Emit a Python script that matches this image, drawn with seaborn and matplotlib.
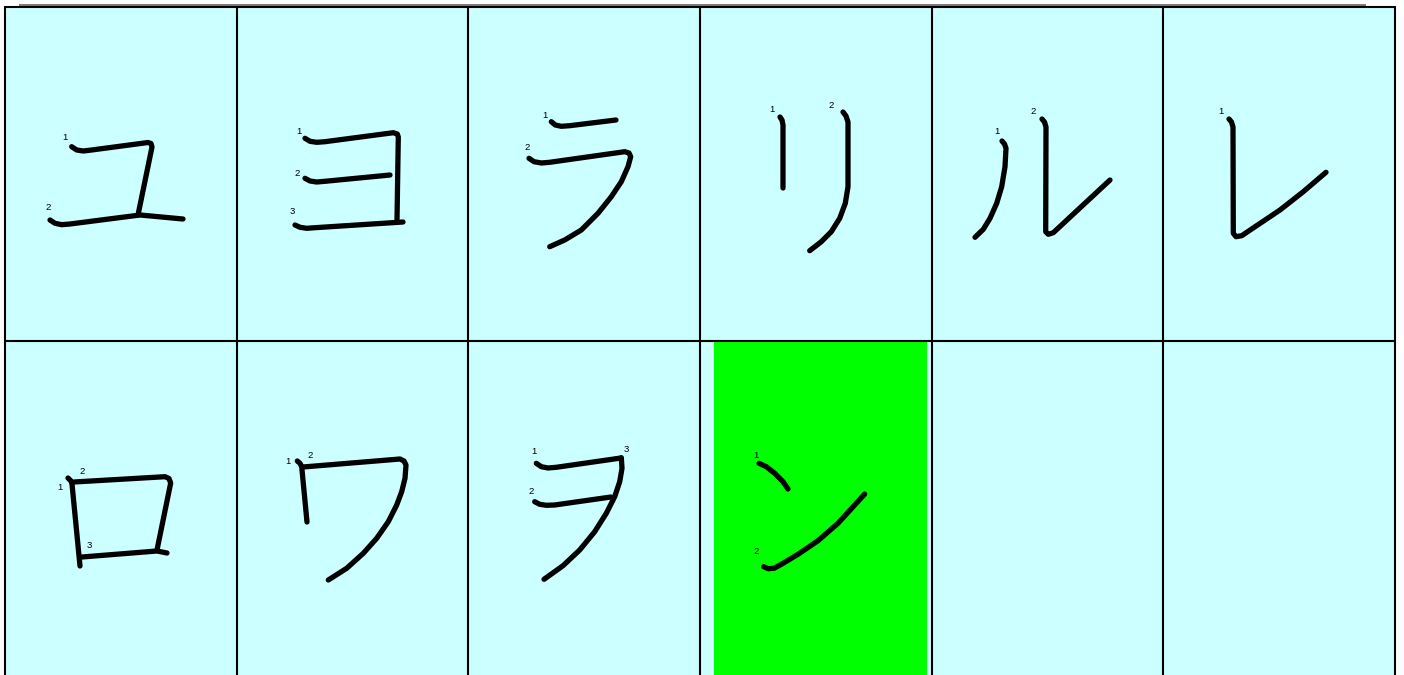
import matplotlib
matplotlib.use("Agg")
import matplotlib.pyplot as plt
import seaborn as sns
import pandas as pd
from matplotlib.patches import Rectangle

sns.set_theme(style="white")
plt.rcParams['font.family'] = ['Liberation Sans', 'DejaVu Sans']

# ---- grid layout data ----
COL_EDGES = [5, 237, 468, 700, 932, 1163, 1395]
ROW_EDGES = [7, 341, 700]
CELL_COLOR = "#ccffff"
HIGHLIGHT = (714, 342, 927, 700)   # highlighted cell (ン)

CHARACTERS = ["ユ", "ヨ", "ラ", "リ", "ル", "レ", "ロ", "ワ", "ヲ", "ン"]

# ---- stroke data (canvas pixel units) ----
YU_STROKES = [
    [(71.7, 146.7), (76.7, 150), (83.3, 151), (91.7, 150), (148, 142.5), (151, 143.5),
     (152, 147), (138, 215)],
    [(50, 220), (55, 223.3), (61.7, 224.7), (70, 224), (140, 215), (183, 219)],
]
YU_LABELS = [(65, 137), (48, 208)]

YO_STROKES = [
    [(305, 138.3), (310, 141.3), (316.7, 142.3), (325, 141.7), (393.3, 132.7),
     (397.3, 134), (398.3, 137), (397, 220)],
    [(305, 178.3), (310, 181), (316.7, 182), (325, 181.3), (390, 175)],
    [(295, 225), (300, 227.3), (306.7, 228.3), (315, 227.7), (403, 222)],
]
YO_LABELS = [(299, 131), (297, 173), (292, 212)]

RA_STROKES = [
    [(551.3, 121.7), (555.3, 125), (561.3, 126.3), (569.7, 125.7), (616, 120)],
    [(529, 158.3), (534, 161.7), (541.3, 163), (549.7, 162.3), (624.7, 151.7),
     (629, 153), (630.7, 156.7), (628, 166.7), (621.3, 181.7), (611.3, 196.7),
     (598, 213.3), (581.3, 230), (564.7, 240), (549.7, 246.7)],
]
RA_LABELS = [(545, 115), (527, 148)]

RI_STROKES = [
    [(780, 117), (782, 120), (783, 125), (783, 188)],
    [(843, 112), (846, 116), (848, 122), (848, 186.7), (845.3, 203.3), (839.7, 218.3),
     (831.3, 231.7), (821.3, 241.7), (809.7, 250.7)],
]
RI_LABELS = [(772, 109), (831, 106)]

RU_STROKES = [
    [(1002, 141), (1004.5, 144), (1006, 148.3), (1005, 166.7), (1001.7, 186.7),
     (996.7, 203.3), (990, 218.3), (983.3, 229.3), (975, 237.3)],
    [(1042, 119), (1044.5, 122), (1046, 127), (1045.7, 231.7), (1048.3, 234.3),
     (1053.3, 232.7), (1110, 180)],
]
RU_LABELS = [(997, 132), (1033, 112)]

RE_STROKES = [
    [(1229, 119), (1231.5, 122), (1233, 127), (1233.3, 233.3), (1236, 236.7),
     (1241.7, 235.7), (1280, 210), (1303.3, 191.7), (1326, 172.3)],
]
RE_LABELS = [(1221, 111)]

RO_STROKES = [
    [(68, 478), (71, 481), (72, 484), (80, 566)],
    [(74, 482), (165, 476.7), (169, 478.5), (170.7, 483), (157, 550)],
    [(82, 557), (157, 551), (167, 553)],
]
RO_LABELS = [(60, 487), (82, 472), (89, 546)]

WA_STROKES = [
    [(297.3, 461), (300, 463.3), (301.7, 466.7), (307, 522)],
    [(303, 467), (400, 459), (404, 461), (406, 465), (405, 478.3), (401.7, 491.7),
     (396.7, 505), (388.3, 521.7), (376.7, 538.3), (363.3, 553.3), (346.7, 568.3),
     (328.3, 580)],
]
WA_LABELS = [(288, 462), (310, 456)]

WO_STROKES = [
    [(536.3, 463.3), (541.3, 466.7), (548, 468), (556.3, 467.3), (621, 458)],
    [(534.7, 501.7), (539.7, 504.3), (546.3, 505.3), (554.7, 505), (611, 497)],
    [(621.3, 457.7), (622, 468.3), (619.7, 481.7), (614.7, 496.7), (606.3, 513.3),
     (594.7, 531.7), (579.7, 550), (563, 565.7), (544, 579.3)],
]
WO_LABELS = [(534, 452), (531, 492), (626, 449)]

N_STROKES = [
    [(759, 463.3), (766.3, 466.7), (774.7, 473.3), (783, 481.7), (788, 489)],
    [(763.7, 566.7), (768, 568.7), (774, 568.3), (781.3, 564.3), (798, 554.3),
     (818, 540.7), (838, 523.3), (864.7, 494)],
]
N_LABELS = [(756, 456), (756, 551)]

ALL_STROKES = [YU_STROKES, YO_STROKES, RA_STROKES, RI_STROKES, RU_STROKES,
               RE_STROKES, RO_STROKES, WA_STROKES, WO_STROKES, N_STROKES]
ALL_LABELS = [YU_LABELS, YO_LABELS, RA_LABELS, RI_LABELS, RU_LABELS,
              RE_LABELS, RO_LABELS, WA_LABELS, WO_LABELS, N_LABELS]

W, H = 1404, 675
fig = plt.figure(figsize=(W / 100, H / 100), dpi=100)
ax = fig.add_axes([0, 0, 1, 1])
ax.set_xlim(0, W)
ax.set_ylim(H, 0)
ax.axis("off")

# background of grid
ax.add_patch(Rectangle((COL_EDGES[0], ROW_EDGES[0]), COL_EDGES[-1] - COL_EDGES[0],
                       ROW_EDGES[-1] - ROW_EDGES[0], facecolor=CELL_COLOR,
                       edgecolor="none", zorder=0))
hx0, hy0, hx1, hy1 = HIGHLIGHT
ax.add_patch(Rectangle((hx0, hy0), hx1 - hx0, hy1 - hy0, facecolor="#00ff00",
                       edgecolor="none", zorder=1))

# grey top rule
ax.plot([19, 1366], [4.5, 4.5], color="#7a7a7a", lw=1.4, solid_capstyle="butt", zorder=2)

# grid lines
for x in COL_EDGES:
    ax.plot([x, x], [ROW_EDGES[0], ROW_EDGES[-1]], color="black", lw=1.5, zorder=3)
for y in ROW_EDGES[:-1]:
    ax.plot([COL_EDGES[0], COL_EDGES[-1]], [y, y], color="black", lw=1.5, zorder=3)

# strokes
for ci, strokes in enumerate(ALL_STROKES):
    for si, stroke in enumerate(strokes):
        df = pd.DataFrame(stroke, columns=["x", "y"])
        sns.lineplot(data=df, x="x", y="y", sort=False, estimator=None, ax=ax,
                     color="black", lw=3.8, solid_capstyle="round",
                     solid_joinstyle="round", zorder=5)
    for si, (lx, ly) in enumerate(ALL_LABELS[ci]):
        ax.text(lx, ly, str(si + 1), fontsize=6.8, ha="center", va="center",
                color="black", zorder=6)

ax.set_xlim(0, W)
ax.set_ylim(H, 0)
ax.set_xlabel("")
ax.set_ylabel("")
fig.savefig("out.png", dpi=100, facecolor="white")
